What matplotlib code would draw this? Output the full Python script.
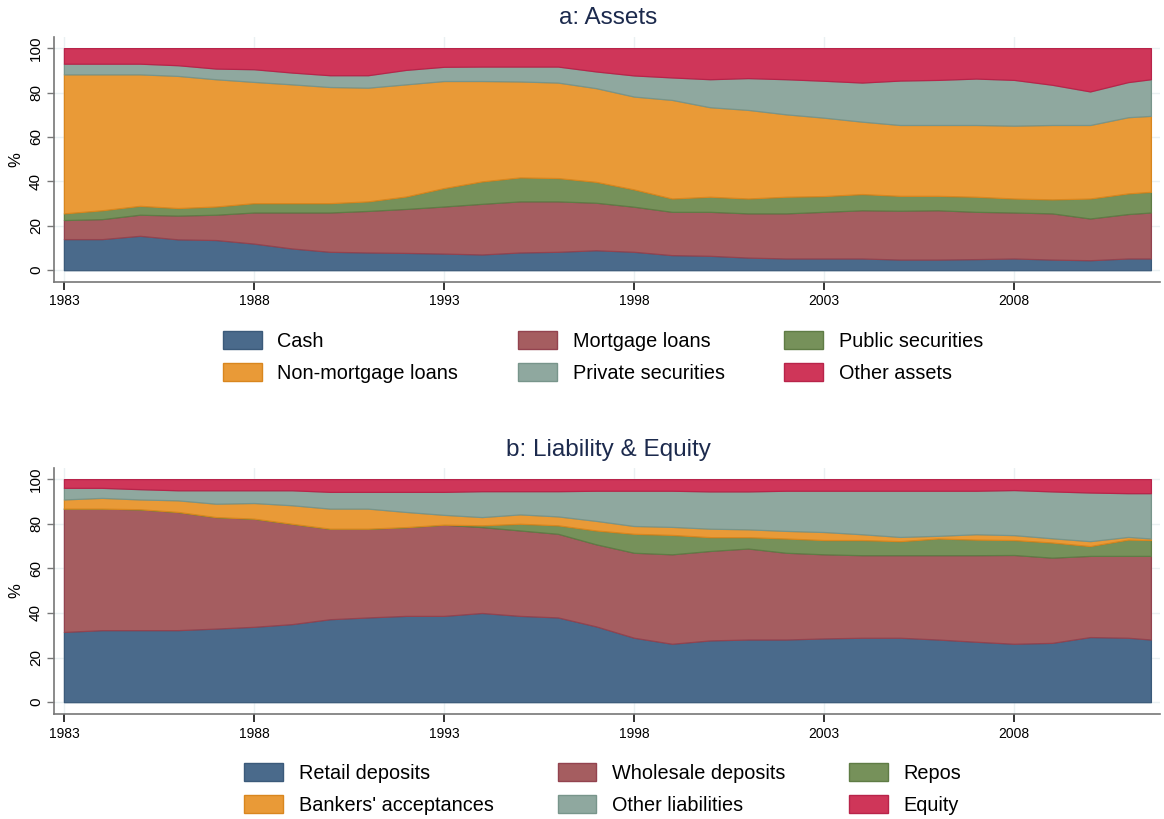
import numpy as np
import matplotlib
matplotlib.use("Agg")
import matplotlib.pyplot as plt
from matplotlib.patches import Patch

plt.rcParams["font.family"] = ["Liberation Sans", "DejaVu Sans"]

# annual observations, last point is the final (partial-year) quarter
YEARS = [1983, 1984, 1985, 1986, 1987, 1988, 1989, 1990, 1991, 1992,
         1993, 1994, 1995, 1996, 1997, 1998, 1999, 2000, 2001, 2002,
         2003, 2004, 2005, 2006, 2007, 2008, 2009, 2010, 2011, 2011.6]

# --- a: Assets (% of total) ---
CASH = [14.0, 14.0, 15.5, 13.9, 13.6, 12.0, 9.8, 8.3, 8.0, 7.8,
        7.5, 7.1, 8.0, 8.3, 9.0, 8.3, 6.8, 6.5, 5.7, 5.3,
        5.3, 5.3, 4.8, 4.8, 5.0, 5.3, 4.8, 4.5, 5.3, 5.3]
MORTGAGE = [8.6, 9.0, 9.5, 10.7, 11.4, 14.0, 16.2, 17.7, 18.7, 19.8,
            21.2, 22.8, 23.0, 22.7, 21.4, 20.3, 19.5, 19.8, 19.9, 20.3,
            21.0, 21.7, 22.0, 22.2, 21.3, 20.7, 20.8, 18.8, 20.0, 20.7]
PUBLIC_SEC = [3.0, 4.0, 4.0, 3.4, 3.7, 4.2, 4.2, 4.2, 4.3, 5.6,
              8.3, 10.1, 10.8, 10.5, 9.4, 7.8, 6.0, 6.8, 6.7, 7.5,
              7.1, 7.3, 6.7, 6.5, 6.8, 6.3, 6.3, 9.0, 9.3, 9.3]
NON_MORTGAGE = [62.6, 61.2, 59.2, 59.5, 57.3, 54.6, 53.5, 52.3, 51.2, 50.5,
                48.2, 45.2, 43.2, 43.0, 42.2, 41.8, 44.4, 40.3, 39.9, 37.1,
                35.3, 32.6, 31.9, 31.9, 32.3, 32.8, 33.5, 33.1, 34.3, 34.2]
PRIVATE_SEC = [4.8, 4.8, 4.8, 4.8, 4.8, 5.7, 5.3, 5.3, 5.6, 6.5,
               6.4, 6.5, 6.7, 7.2, 7.5, 9.5, 10.1, 12.6, 14.3, 15.8,
               16.6, 17.6, 20.0, 20.3, 20.9, 20.6, 18.1, 15.1, 15.8, 16.5]
OTHER_ASSETS = [7.0, 7.0, 7.0, 7.7, 9.2, 9.5, 11.0, 12.2, 12.2, 9.8,
                8.4, 8.3, 8.3, 8.3, 10.5, 12.3, 13.2, 14.0, 13.5, 14.0,
                14.7, 15.5, 14.6, 14.3, 13.7, 14.3, 16.5, 19.5, 15.3, 14.0]

# --- b: Liability & Equity (% of total) ---
RETAIL = [31.5, 32.3, 32.3, 32.3, 33.0, 33.8, 35.0, 37.2, 38.0, 38.7,
          38.7, 40.0, 38.7, 38.0, 34.0, 28.9, 26.2, 27.7, 28.1, 28.1,
          28.6, 28.9, 28.9, 28.1, 27.1, 26.2, 26.6, 29.2, 28.9, 28.1]
WHOLESALE = [55.3, 54.5, 54.2, 53.0, 50.0, 48.5, 45.0, 40.6, 39.8, 39.8,
             40.9, 38.5, 38.3, 37.5, 36.8, 38.1, 40.1, 40.1, 40.8, 38.9,
             37.7, 37.0, 37.0, 37.8, 38.8, 39.8, 38.2, 36.4, 36.7, 37.5]
REPOS = [0.0, 0.0, 0.0, 0.0, 0.0, 0.0, 0.0, 0.0, 0.0, 0.0,
         0.0, 0.8, 3.0, 3.8, 6.2, 8.5, 8.7, 6.2, 5.1, 6.4,
         6.4, 6.8, 6.3, 7.5, 7.0, 6.7, 6.8, 4.4, 7.3, 7.1]
BANKERS_ACC = [4.1, 4.8, 4.4, 5.2, 6.0, 7.0, 8.3, 9.0, 9.0, 6.8,
               4.4, 3.7, 4.2, 4.0, 4.3, 3.5, 3.6, 3.8, 3.5, 3.4,
               3.6, 2.6, 1.9, 1.2, 2.4, 2.2, 1.9, 2.2, 1.2, 0.7]
OTHER_LIAB = [5.2, 4.5, 4.6, 4.5, 6.0, 5.7, 6.7, 7.5, 7.5, 9.0,
              10.3, 11.6, 10.4, 11.3, 13.5, 15.8, 16.2, 16.7, 17.0, 18.0,
              18.5, 19.5, 20.7, 20.2, 19.5, 20.2, 21.0, 21.8, 19.6, 20.3]
EQUITY = [3.9, 3.9, 4.5, 5.0, 5.0, 5.0, 5.0, 5.7, 5.7, 5.7,
          5.7, 5.4, 5.4, 5.4, 5.2, 5.2, 5.2, 5.5, 5.5, 5.2,
          5.2, 5.2, 5.2, 5.2, 5.2, 4.9, 5.5, 6.0, 6.3, 6.3]

ASSET_LABELS = ["Cash", "Mortgage loans", "Public securities",
                "Non-mortgage loans", "Private securities", "Other assets"]
LIAB_LABELS = ["Retail deposits", "Wholesale deposits", "Repos",
               "Bankers' acceptances", "Other liabilities", "Equity"]
XTICKS = [1983, 1988, 1993, 1998, 2003, 2008]

FILL = ["#4a6a8b", "#a55d60", "#76915a", "#e99a37", "#8fa89f", "#cf3659"]
EDGE = ["#3b5a7a", "#93434f", "#5f7c45", "#d9861e", "#78958b", "#b8244a"]
TITLE = "#1c2a4d"
GRID = "#eaf0f2"


def panel(ax, series, labels, title, title_y, leg_y, colsp):
    polys = ax.stackplot(YEARS, *series, colors=FILL, zorder=2)
    for p, e in zip(polys, EDGE):
        p.set_edgecolor(e)
        p.set_linewidth(0.9)
    ax.set_xlim(1982.74, 2011.84)
    ax.set_ylim(-5.3, 105)
    ax.set_xticks(XTICKS)
    ax.set_yticks([0, 20, 40, 60, 80, 100])
    ax.grid(color=GRID, lw=1.0, zorder=0)
    for s in ("top", "right"):
        ax.spines[s].set_visible(False)
    for s in ("left", "bottom"):
        ax.spines[s].set_color("#777777")
        ax.spines[s].set_linewidth(1.2)
    ax.tick_params(axis="x", length=6, width=1.3, color="#222222",
                   labelsize=10, pad=3)
    ax.tick_params(axis="y", length=5, width=1.0, color="#777777",
                   labelsize=11, pad=3)
    for lab in ax.get_yticklabels():
        lab.set_rotation(90)
        lab.set_va("center")
    ax.set_ylabel("%", fontsize=12, labelpad=4)
    fig.text(608 / 1164, title_y, title, ha="center", va="center",
             fontsize=17.5, color=TITLE)
    handles = [Patch(facecolor=c, edgecolor=e, lw=1.0)
               for c, e in zip(FILL, EDGE)]
    # legend is filled row-wise in the original
    order = [0, 3, 1, 4, 2, 5]
    fig.legend([handles[i] for i in order], [labels[i] for i in order],
               loc="center", bbox_to_anchor=(0.518, leg_y), ncol=3,
               frameon=False, fontsize=14.3, handlelength=1.95,
               handleheight=1.05, handletextpad=0.8, columnspacing=colsp,
               labelspacing=0.6)


fig = plt.figure(figsize=(11.64, 8.19), dpi=100)
ax_a = fig.add_axes([0.0464, 0.6557, 0.9502, 0.2991])
ax_b = fig.add_axes([0.0464, 0.1282, 0.9502, 0.3004])

panel(ax_a, [CASH, MORTGAGE, PUBLIC_SEC, NON_MORTGAGE, PRIVATE_SEC, OTHER_ASSETS],
      ASSET_LABELS, "a: Assets", 1 - 18 / 819, 1 - 357 / 819, 3.0)
panel(ax_b, [RETAIL, WHOLESALE, REPOS, BANKERS_ACC, OTHER_LIAB, EQUITY],
      LIAB_LABELS, "b: Liability & Equity", 1 - 450 / 819, 1 - 789 / 819, 3.2)

fig.savefig("out.png", dpi=100)
